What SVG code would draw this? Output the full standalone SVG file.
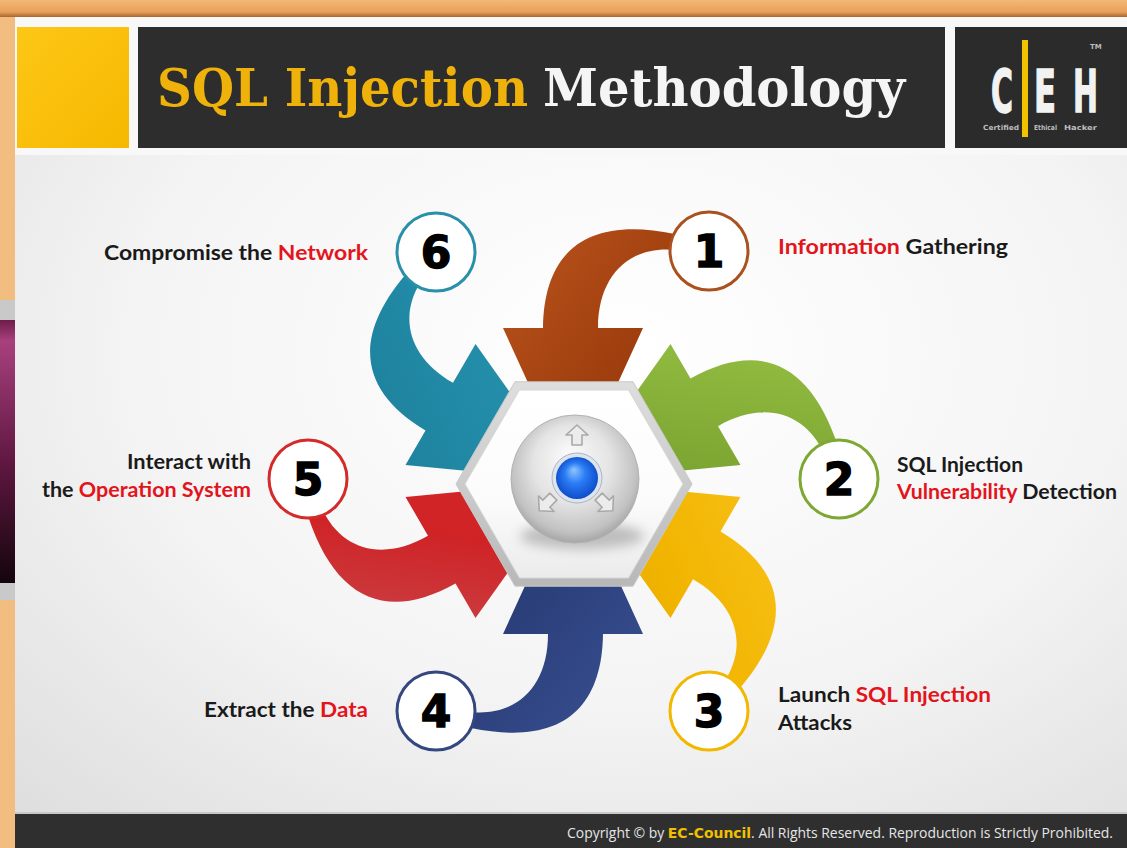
<svg xmlns="http://www.w3.org/2000/svg" width="1127" height="848" viewBox="0 0 1127 848">
  <style>
    .lbl { font-family: Lato, "Open Sans", "Liberation Sans", sans-serif; font-weight: 700; font-size: 21px; fill: #1a1a1a; }
    .red { fill: #e3141c; }
    .num { font-family: "DejaVu Sans", "Liberation Sans", sans-serif; font-weight: 700; font-size: 44px; fill: #000; stroke: #000; stroke-width: 1.4; text-anchor: middle; }
    .ring { fill: #ffffff; stroke-width: 3; }
    .ttl { font-family: "DejaVu Serif", "Liberation Serif", serif; font-weight: 700; font-size: 52px; }
    .ceh { font-family: "DejaVu Sans", "Liberation Sans", sans-serif; font-weight: 700; font-size: 58px; fill: #f2f2f2; stroke: #f2f2f2; stroke-width: 1.5; }
    .ceh-s { font-family: "DejaVu Sans", "Liberation Sans", sans-serif; font-weight: 700; font-size: 7px; fill: #bdbdbd; }
    .foot { font-family: "Open Sans", "Liberation Sans", sans-serif; font-size: 14px; fill: #e6e6e6; }
    .mini { fill: #ececec; stroke: #a9a9a9; stroke-width: 1.6; stroke-linejoin: round; }
  </style>
  <defs>
    <linearGradient id="frameTop" x1="0" y1="0" x2="0" y2="1">
      <stop offset="0" stop-color="#f3b877"/>
      <stop offset="0.7" stop-color="#e8a05a"/>
      <stop offset="1" stop-color="#a8652e"/>
    </linearGradient>
    <linearGradient id="frameLeft" x1="0" y1="0" x2="1" y2="0">
      <stop offset="0" stop-color="#f2bd80"/>
      <stop offset="0.7" stop-color="#d89a58"/>
      <stop offset="1" stop-color="#9c6a3a"/>
    </linearGradient>
    <linearGradient id="magenta" x1="0" y1="0" x2="0" y2="1">
      <stop offset="0" stop-color="#6e1c4a"/>
      <stop offset="0.08" stop-color="#a8407e"/>
      <stop offset="0.55" stop-color="#5e1740"/>
      <stop offset="1" stop-color="#14050c"/>
    </linearGradient>
    <radialGradient id="bodyBg" cx="0.55" cy="0.42" r="0.8">
      <stop offset="0" stop-color="#ffffff"/>
      <stop offset="0.55" stop-color="#f4f4f4"/>
      <stop offset="1" stop-color="#dedede"/>
    </radialGradient>
    <linearGradient id="yellowBlock" x1="0" y1="0" x2="1" y2="1">
      <stop offset="0" stop-color="#fdc716"/>
      <stop offset="1" stop-color="#f6b800"/>
    </linearGradient>
    <!-- arrow fills -->
    <linearGradient id="g1" x1="0" y1="0" x2="1" y2="1">
      <stop offset="0" stop-color="#b9551e"/>
      <stop offset="0.5" stop-color="#a2400f"/>
      <stop offset="1" stop-color="#8a3008"/>
    </linearGradient>
    <linearGradient id="g2" x1="0" y1="0" x2="1" y2="1">
      <stop offset="0" stop-color="#9cc448"/>
      <stop offset="0.5" stop-color="#80aa34"/>
      <stop offset="1" stop-color="#6a9226"/>
    </linearGradient>
    <linearGradient id="g3" x1="0" y1="0" x2="1" y2="1">
      <stop offset="0" stop-color="#f9c41c"/>
      <stop offset="0.5" stop-color="#f1b400"/>
      <stop offset="1" stop-color="#e2a300"/>
    </linearGradient>
    <linearGradient id="g4" x1="0" y1="0" x2="1" y2="1">
      <stop offset="0" stop-color="#3a5192"/>
      <stop offset="0.5" stop-color="#2c407c"/>
      <stop offset="1" stop-color="#24366a"/>
    </linearGradient>
    <linearGradient id="g5" x1="0" y1="0" x2="1" y2="1">
      <stop offset="0" stop-color="#c84a4e"/>
      <stop offset="0.45" stop-color="#cf2326"/>
      <stop offset="1" stop-color="#dd2a26"/>
    </linearGradient>
    <linearGradient id="g6" x1="0" y1="0" x2="1" y2="1">
      <stop offset="0" stop-color="#1c7d98"/>
      <stop offset="0.5" stop-color="#228ca8"/>
      <stop offset="1" stop-color="#2c98b4"/>
    </linearGradient>
    <!-- hub -->
    <linearGradient id="hexRim" x1="0" y1="0" x2="0" y2="1">
      <stop offset="0" stop-color="#dedede"/>
      <stop offset="1" stop-color="#b8b8b8"/>
    </linearGradient>
    <linearGradient id="hexFace" x1="0" y1="0" x2="0" y2="1">
      <stop offset="0" stop-color="#ffffff"/>
      <stop offset="0.6" stop-color="#fbfbfb"/>
      <stop offset="1" stop-color="#ebebeb"/>
    </linearGradient>
    <radialGradient id="sphere" cx="0.5" cy="0.45" r="0.55" fx="0.45" fy="0.3">
      <stop offset="0" stop-color="#fbfbfb"/>
      <stop offset="0.55" stop-color="#e4e4e4"/>
      <stop offset="0.88" stop-color="#c2c2c2"/>
      <stop offset="1" stop-color="#a6a6a6"/>
    </radialGradient>
    <radialGradient id="blue" cx="0.5" cy="0.5" r="0.55" fx="0.42" fy="0.3">
      <stop offset="0" stop-color="#8fc6ff"/>
      <stop offset="0.45" stop-color="#2a7cf4"/>
      <stop offset="1" stop-color="#0b47c6"/>
    </radialGradient>
    <filter id="soft" x="-50%" y="-50%" width="200%" height="200%">
      <feGaussianBlur stdDeviation="6"/>
    </filter>
    <!-- curved arrow from the top slot, rotated for the other five -->
    <path id="arrowShape" d="M 503,328 L 543,328 C 544,250 588,216 675,234 L 700,245 L 700,258 L 676,250 C 630,245 598,275 598,328 L 643,328 L 573,481 Z"/>
    <path id="miniArrow" d="M0,-11 L11,-1 L5,-1 L5,9 L-5,9 L-5,-1 L-11,-1 Z"/>
  </defs>

  <!-- frame and slide background -->
  <rect x="0" y="0" width="1127" height="848" fill="url(#frameLeft)"/>
  <rect x="0" y="0" width="1127" height="17" fill="url(#frameTop)"/>
  <rect x="0" y="300" width="17" height="300" fill="#c9c9c9"/>
  <rect x="0" y="320" width="17" height="263" fill="url(#magenta)"/>
  <rect x="15" y="17" width="1112" height="798" fill="url(#bodyBg)"/>
  <rect x="15" y="17" width="1112" height="138" fill="#f8f8f8"/>

  <!-- header -->
  <g id="header">
    <rect x="17" y="27" width="112" height="121" fill="url(#yellowBlock)"/>
    <rect x="138" y="27" width="807" height="121" fill="#2d2d2d"/>
    <text class="ttl" x="157" y="106" fill="#efb20a" textLength="371" lengthAdjust="spacingAndGlyphs">SQL Injection</text>
    <text class="ttl" x="543" y="106" fill="#f5f5f5" textLength="362" lengthAdjust="spacingAndGlyphs">Methodology</text>
  </g>

  <!-- CEH badge -->
  <g id="ceh-logo">
    <rect x="955" y="27" width="172" height="121" fill="#2b2b2b"/>
    <rect x="1022" y="40" width="6" height="97" fill="#f1c200"/>
    <text class="ceh" x="991" y="112" textLength="22" lengthAdjust="spacingAndGlyphs">C</text>
    <text class="ceh" x="1034" y="112" textLength="22" lengthAdjust="spacingAndGlyphs">E</text>
    <text class="ceh" x="1073" y="112" textLength="25" lengthAdjust="spacingAndGlyphs">H</text>
    <text class="ceh-s" x="983" y="130" textLength="36" lengthAdjust="spacingAndGlyphs">Certified</text>
    <text class="ceh-s" x="1034" y="130" textLength="23" lengthAdjust="spacingAndGlyphs">Ethical</text>
    <text class="ceh-s" x="1064" y="130" textLength="33" lengthAdjust="spacingAndGlyphs">Hacker</text>
    <text class="ceh-s" x="1090" y="49" font-size="4">TM</text>
  </g>

  <!-- connectors: six curved arrows into the hub -->
  <g id="connectors">
    <use href="#arrowShape" fill="url(#g1)"/>
    <use href="#arrowShape" fill="url(#g2)" transform="rotate(60 573 481)"/>
    <use href="#arrowShape" fill="url(#g3)" transform="rotate(120 573 481)"/>
    <use href="#arrowShape" fill="url(#g4)" transform="rotate(180 573 481)"/>
    <use href="#arrowShape" fill="url(#g5)" transform="rotate(240 573 481)"/>
    <use href="#arrowShape" fill="url(#g6)" transform="rotate(300 573 481)"/>
  </g>

  <!-- hub -->
  <g id="hub">
    <polygon points="692,484 633,381.8 515,381.8 456,484 515,586.2 633,586.2" fill="url(#hexRim)" stroke="#c8c8c8" stroke-width="1"/>
    <polygon points="683,484 628.5,390 519.5,390 465,484 519.5,578 628.5,578" fill="url(#hexFace)" stroke="#d6d6d6" stroke-width="1"/>
    <ellipse cx="582" cy="536" rx="62" ry="13" fill="#7a7a7a" opacity="0.45" filter="url(#soft)"/>
    <circle cx="575" cy="479" r="64" fill="url(#sphere)" stroke="#b2b2b2" stroke-width="1"/>
    <use href="#miniArrow" class="mini" transform="translate(577 436)"/>
    <use href="#miniArrow" class="mini" transform="translate(547 503) rotate(-135)"/>
    <use href="#miniArrow" class="mini" transform="translate(605 503) rotate(135)"/>
    <circle cx="577" cy="478" r="25" fill="#dde4ee" stroke="#a9b6c8" stroke-width="1"/>
    <circle cx="577" cy="478" r="21" fill="url(#blue)"/>
  </g>

  <!-- step nodes -->
  <g id="node-1">
    <circle class="ring" cx="709" cy="251" r="39" stroke="#a9521f"/>
    <text class="num" x="709" y="267">1</text>
    <text class="lbl" x="778" y="254" textLength="230" lengthAdjust="spacingAndGlyphs"><tspan class="red">Information</tspan> Gathering</text>
  </g>
  <g id="node-2">
    <circle class="ring" cx="839" cy="479" r="39" stroke="#7ea832"/>
    <text class="num" x="839" y="495">2</text>
    <text class="lbl" x="897" y="472" textLength="126" lengthAdjust="spacingAndGlyphs">SQL Injection</text>
    <text class="lbl" x="897" y="499" textLength="220" lengthAdjust="spacingAndGlyphs"><tspan class="red">Vulnerability</tspan> Detection</text>
  </g>
  <g id="node-3">
    <circle class="ring" cx="709" cy="711" r="39" stroke="#f2b800"/>
    <text class="num" x="709" y="727">3</text>
    <text class="lbl" x="778" y="702" textLength="213" lengthAdjust="spacingAndGlyphs">Launch <tspan class="red">SQL Injection</tspan></text>
    <text class="lbl" x="778" y="730" textLength="74" lengthAdjust="spacingAndGlyphs">Attacks</text>
  </g>
  <g id="node-4">
    <circle class="ring" cx="436" cy="711" r="39" stroke="#34477f"/>
    <text class="num" x="436" y="727">4</text>
    <text class="lbl" x="204" y="717" textLength="164" lengthAdjust="spacingAndGlyphs">Extract the <tspan class="red">Data</tspan></text>
  </g>
  <g id="node-5">
    <circle class="ring" cx="308" cy="479" r="39" stroke="#d42a2a"/>
    <text class="num" x="308" y="495">5</text>
    <text class="lbl" x="127" y="469" textLength="124" lengthAdjust="spacingAndGlyphs">Interact with</text>
    <text class="lbl" x="42" y="497" textLength="209" lengthAdjust="spacingAndGlyphs">the <tspan class="red">Operation System</tspan></text>
  </g>
  <g id="node-6">
    <circle class="ring" cx="436" cy="252" r="39" stroke="#2a8fa8"/>
    <text class="num" x="436" y="268">6</text>
    <text class="lbl" x="104" y="260" textLength="264" lengthAdjust="spacingAndGlyphs">Compromise the <tspan class="red">Network</tspan></text>
  </g>

  <!-- footer -->
  <g id="footer">
    <rect x="15" y="812" width="1112" height="2" fill="#c8c8c8"/>
    <rect x="15" y="814" width="1112" height="34" fill="#2f2f2f"/>
    <text class="foot" x="567" y="838" textLength="546" lengthAdjust="spacingAndGlyphs">Copyright © by <tspan fill="#f0c000" font-family="'DejaVu Sans', sans-serif" font-weight="700">EC-Council</tspan>. All Rights Reserved. Reproduction is Strictly Prohibited.</text>
  </g>
</svg>
